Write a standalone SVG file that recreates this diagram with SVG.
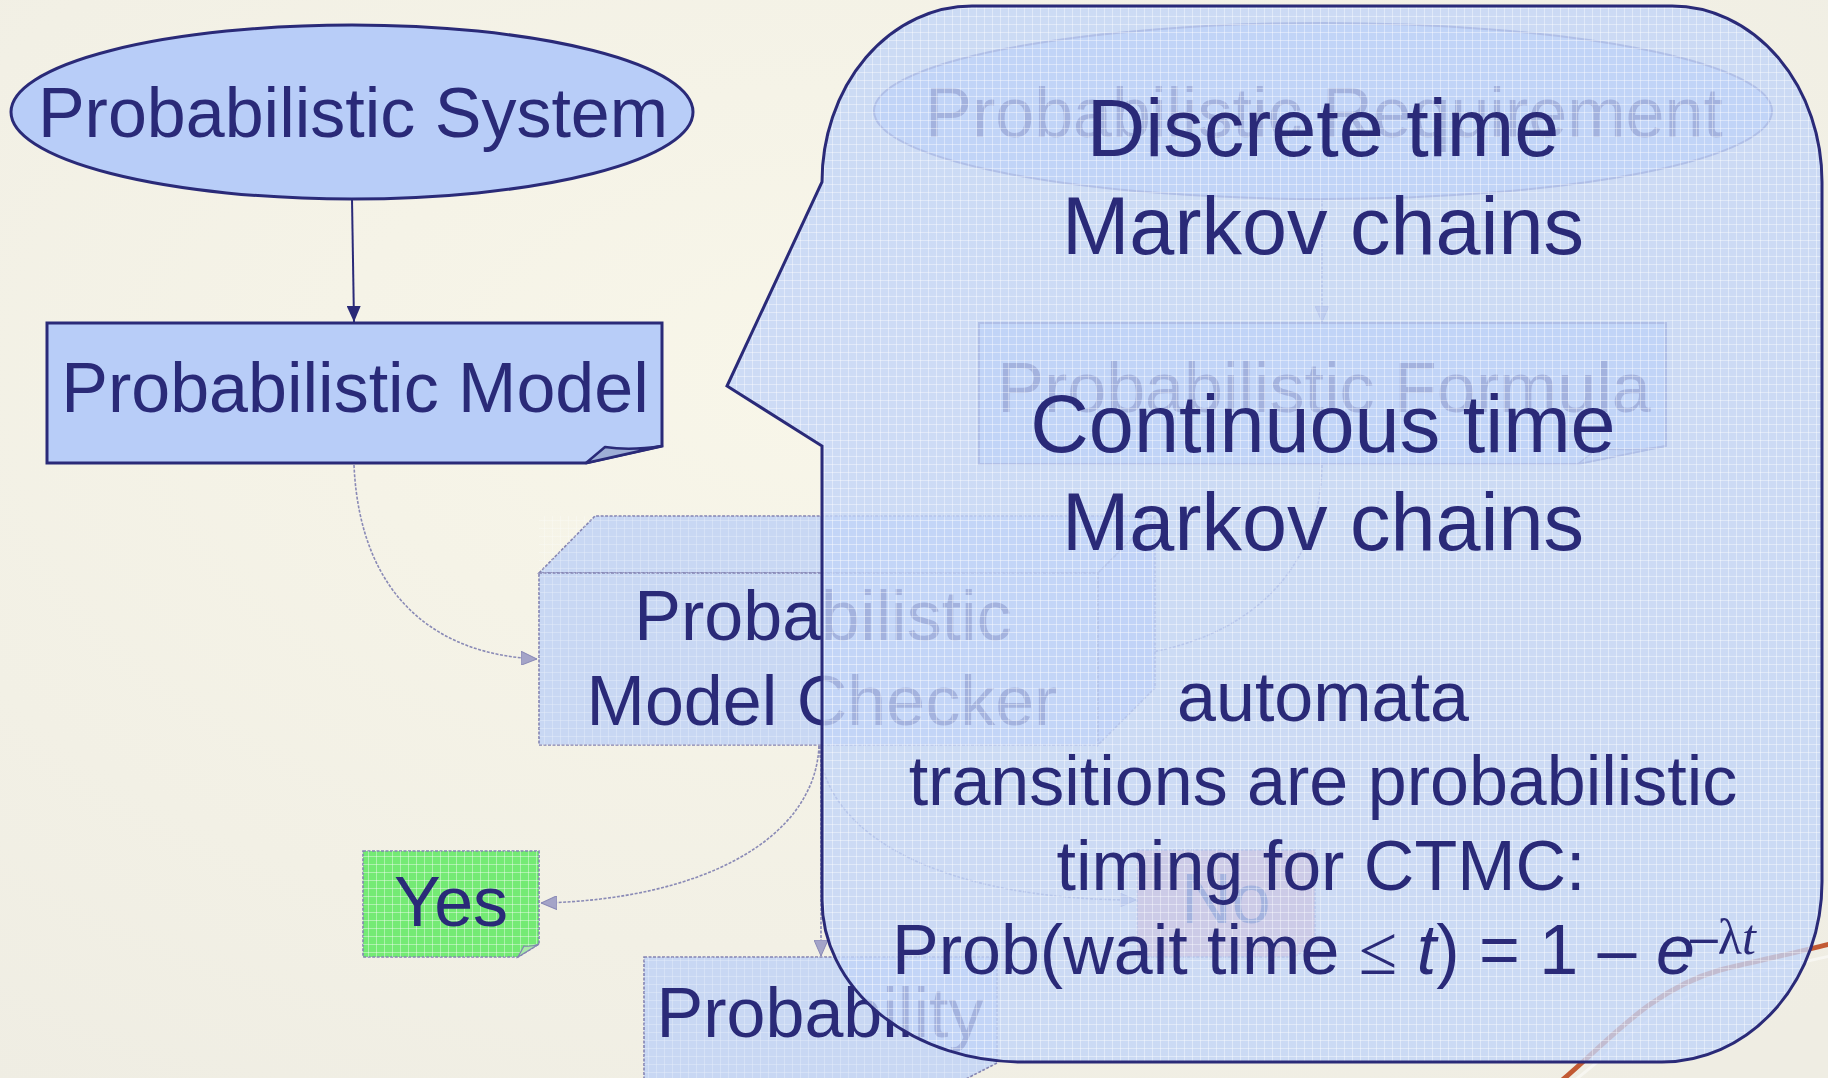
<svg xmlns="http://www.w3.org/2000/svg" width="1828" height="1078" viewBox="0 0 1828 1078">
<defs>
<style>
.t{font-family:"Liberation Sans",Arial,sans-serif;fill:#2a2a78;text-anchor:middle}
.n{fill:#b8cdf8;stroke:#2a2a78;stroke-width:3}
.f{stroke:#8484b2;stroke-width:1.6;stroke-dasharray:3 1.5}
.c{fill:none;stroke:#8a8ab6;stroke-width:1.6;stroke-dasharray:3 1.5}
.fold{fill:#9eaed6;stroke:#2a2a78;stroke-width:2.5;stroke-linejoin:round}
</style>
<pattern id="grid" width="8" height="8" patternUnits="userSpaceOnUse">
<path d="M0,0.5H8M0.5,0V8" stroke="#ffffff" stroke-width="1" opacity="0.4" fill="none"/>
</pattern>
<radialGradient id="bg" cx="0.45" cy="0.35" r="0.8">
<stop offset="0" stop-color="#f8f6e9"/>
<stop offset="1" stop-color="#efede3"/>
</radialGradient>
<marker id="arr" markerUnits="userSpaceOnUse" markerWidth="16" markerHeight="14" refX="16" refY="7" orient="auto">
<path d="M0,0 L16,7 L0,14 Z" fill="#2a2a78"/>
</marker>
<marker id="arrf" markerUnits="userSpaceOnUse" markerWidth="16" markerHeight="14" refX="16" refY="7" orient="auto">
<path d="M0,0 L16,7 L0,14 Z" fill="#a4a4c8" stroke="#8a8ab6" stroke-width="1"/>
</marker>
</defs>

<rect width="1828" height="1078" fill="url(#bg)"/>

<g id="connectors">
<line x1="352" y1="199" x2="354" y2="322" stroke="#2a2a78" stroke-width="2" marker-end="url(#arr)"/>
<line class="c" x1="1322" y1="199" x2="1322" y2="322" marker-end="url(#arrf)"/>
<path class="c" d="M354,465 C360,600 440,655 537,659" marker-end="url(#arrf)"/>
<path class="c" d="M1322,465 C1320,585 1230,652 1101,658" marker-end="url(#arrf)"/>
<path class="c" d="M819,746 C815,840 700,900 541,903" marker-end="url(#arrf)"/>
<path class="c" d="M819,746 C825,840 950,900 1136,900" marker-end="url(#arrf)"/>
<line class="c" x1="821" y1="746" x2="821" y2="956" marker-end="url(#arrf)"/>
</g>

<g id="system">
<ellipse class="n" cx="352" cy="112" rx="341" ry="87"/>
<text class="t" x="353" y="137" font-size="70">Probabilistic System</text>
</g>

<g id="model">
<path class="n" d="M47,323 H662 V446 L586,463 H47 Z"/>
<path class="fold" d="M586,463 L605,447 Q630,451 662,446 Z"/>
<text class="t" x="355" y="412" font-size="70">Probabilistic Model</text>
</g>

<g id="requirement">
<ellipse cx="1323" cy="111" rx="449" ry="88" fill="#bfd1f6" stroke="#6a6aa4" stroke-width="2"/>
<text class="t" x="1324" y="137" font-size="70">Probabilistic Requirement</text>
</g>

<g id="formula">
<path d="M979,323 H1666 V446 L1578,464 H979 Z" fill="#bfd1f6" stroke="#6a6aa4" stroke-width="2"/>
<path d="M1578,464 L1598,448 Q1630,452 1666,446 Z" fill="#a8b8de" stroke="#6a6aa4" stroke-width="1.5"/>
<text class="t" x="1324" y="412" font-size="70">Probabilistic Formula</text>
</g>

<g id="checker">
<polygon class="f" points="539,573 595,516 1155,516 1098,573" fill="#c8d7f3"/>
<polygon class="f" points="1098,573 1155,516 1155,688 1098,745" fill="#bccef2"/>
<rect class="f" x="539" y="573" width="559" height="172" fill="#c8d7f3"/>
<rect x="539" y="516" width="616" height="229" fill="url(#grid)" opacity="0.6"/>
<text class="t" x="823" y="640" font-size="70">Probabilistic</text>
<text class="t" x="822" y="725" font-size="70">Model Checker</text>
</g>

<g id="yes">
<path class="f" d="M363,851 H539 V944 L518,957 H363 Z" fill="#74ea74"/>
<path d="M363,851 H539 V944 L518,957 H363 Z" fill="url(#grid)"/>
<path d="M518,957 L524,946 Q531,947 539,944 Z" fill="#a8e8a8" stroke="#8484b2" stroke-width="1.2"/>
<text class="t" x="451" y="926" font-size="70">Yes</text>
</g>

<g id="no">
<path class="f" d="M1137,850 H1315 V944 L1294,957 H1137 Z" fill="#f6a6a6"/>
<text class="t" x="1226" y="923" font-size="70">No</text>
</g>

<g id="probability">
<path class="f" d="M644,957 H997 V1063 L960,1082 H644 Z" fill="#c8d7f3"/>
<path d="M644,957 H997 V1063 L960,1082 H644 Z" fill="url(#grid)" opacity="0.6"/>
<text class="t" x="820" y="1037" font-size="70">Probability</text>
</g>

<path d="M1560,1082 C1610,1040 1650,990 1720,970 C1760,960 1800,952 1830,944" fill="none" stroke="#c25a34" stroke-width="5"/>
<path d="M1570,1084 C1620,1046 1660,1000 1726,980 C1766,970 1804,962 1830,956" fill="none" stroke="#ffffff" stroke-width="3" opacity="0.5"/>

<g id="callout">
<path d="M972,6 H1672 A150,176 0 0 1 1822,182 V882 A160,180 0 0 1 1662,1062 H1022 A200,162 0 0 1 822,900 V446 L727,386 L822,182 A150,176 0 0 1 972,6 Z" fill="#c2d4f7" fill-opacity="0.8" stroke="none"/>
<path d="M972,6 H1672 A150,176 0 0 1 1822,182 V882 A160,180 0 0 1 1662,1062 H1022 A200,162 0 0 1 822,900 V446 L727,386 L822,182 A150,176 0 0 1 972,6 Z" fill="url(#grid)" stroke="#2a2a78" stroke-width="3"/>
<text class="t" x="1323" y="156" font-size="81">Discrete time</text>
<text class="t" x="1323" y="254" font-size="81">Markov chains</text>
<text class="t" x="1323" y="452" font-size="81">Continuous time</text>
<text class="t" x="1323" y="550" font-size="81">Markov chains</text>
<text class="t" x="1323" y="721" font-size="70">automata</text>
<text class="t" x="1323" y="805" font-size="70">transitions are probabilistic</text>
<text class="t" x="1321" y="890" font-size="70">timing for CTMC:</text>
<text class="t" x="892" y="974" font-size="70" style="text-anchor:start">Prob(wait time <tspan font-family="Liberation Serif,serif">≤</tspan> <tspan font-style="italic">t</tspan>) = 1 – <tspan font-style="italic">e</tspan><tspan font-size="50" dy="-20" dx="-5">–</tspan><tspan font-size="50" font-family="Liberation Serif,serif">λ</tspan><tspan font-size="50" font-family="Liberation Serif,serif" font-style="italic">t</tspan></text>
</g>
</svg>
